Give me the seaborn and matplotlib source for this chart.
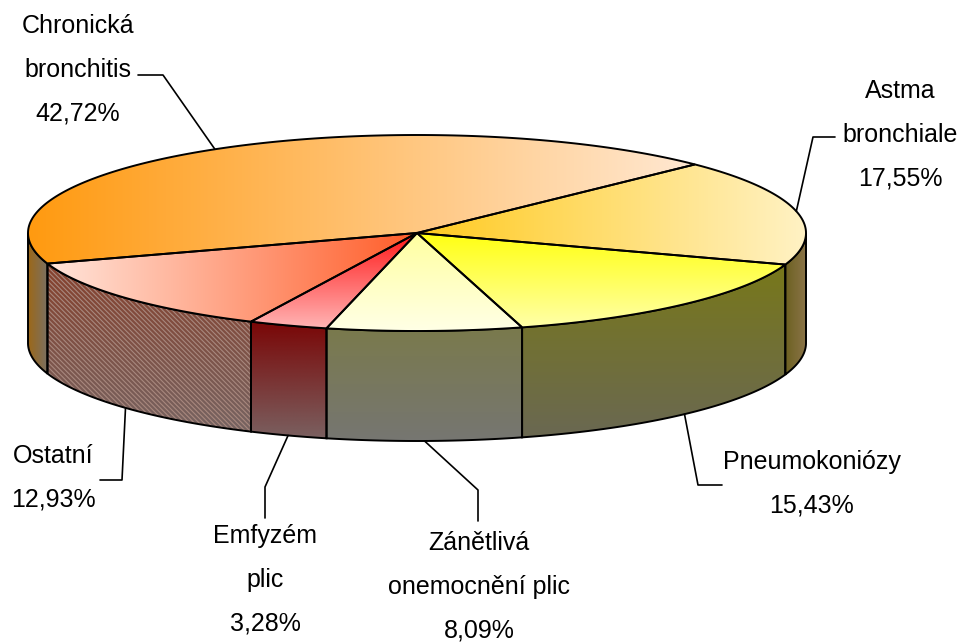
import numpy as np
import matplotlib
matplotlib.use("Agg")
import matplotlib.pyplot as plt
from matplotlib.patches import Polygon
import seaborn as sns

# data (counter-clockwise from the upper right)
labels = ["Chronická\nbronchitis", "Ostatní", "Emfyzém\nplic",
          "Zánětlivá\nonemocnění plic", "Pneumokoniózy", "Astma\nbronchiale"]
shares = [42.72, 12.93, 3.28, 8.09, 15.43, 17.55]
pct_labels = ["42,72%", "12,93%", "3,28%", "8,09%", "15,43%", "17,55%"]

# colours: top face gradient, side gradient (direction h/v)
top_cols = [(["#FF9A10", "#FFE8D2"], "h"),
            (["#FFE6DC", "#FF5C28"], "h"),
            (["#FF1818", "#FFB4B4"], "v"),
            (["#FFFFA0", "#FFFFE6"], "v"),
            (["#FFFF10", "#FFFFA8"], "v"),
            (["#FFCA20", "#FFF2C4"], "h")]
side_cols = [(["#9C6818", "#7A7064"], "h"),
             (["#86402C", "#766462"], "v"),
             (["#7A0606", "#7A6060"], "v"),
             (["#7A7A4C", "#767672"], "v"),
             (["#78781A", "#6A6852"], "v"),
             (["#6C6020", "#8A7448"], "h")]

# label layout (text block centre, elbow points of leader line)
text_pos = [(78, 70), (53, 478), (265, 580), (479, 587), (812, 484), (900, 135)]
elbows = [[(163, 75), (138, 75)],
          [(122, 480), (100, 480)],
          [(265, 487), (265, 518)],
          [(478, 490), (478, 521)],
          [(698, 485), (722, 485)],
          [(813, 137), (835, 137)]]

CX, CY, RX, RY, DEPTH, START = 417, 233, 389, 98, 110, 44.4

sns.set_theme(style="white")
plt.rcParams["font.family"] = ["Liberation Sans", "DejaVu Sans"]
plt.rcParams["hatch.linewidth"] = 0.8

fig = plt.figure(figsize=(9.62, 6.43), dpi=100)
ax = fig.add_axes([0, 0, 1, 1])


def ell(t, dz=0.0):
    r = np.radians(t)
    return np.column_stack([CX + RX * np.cos(r), CY - RY * np.sin(r) + dz])


def grad_fill(verts, colors, direction, zorder, hatch=None):
    poly = Polygon(verts, closed=True, facecolor="none", edgecolor="none")
    ax.add_patch(poly)
    pal = np.array(sns.blend_palette(colors, 256))
    img = pal[None, :, :] if direction == "h" else pal[:, None, :]
    x0, y0 = verts.min(0)
    x1, y1 = verts.max(0)
    im = ax.imshow(img, extent=(x0, x1, y1, y0), aspect="auto",
                   interpolation="bilinear", zorder=zorder)
    im.set_clip_path(poly)
    if hatch:
        ax.add_patch(Polygon(verts, closed=True, facecolor="none",
                             edgecolor="#A8887E", hatch=hatch, lw=0,
                             zorder=zorder + 0.1))
    ax.add_patch(Polygon(verts, closed=True, facecolor="none",
                         edgecolor="black", lw=1.4, zorder=zorder + 0.2))


bounds = START + np.concatenate([[0], np.cumsum(shares)]) / 100 * 360

# side walls (front half only)
for i in range(len(shares)):
    lo, hi = max(bounds[i], 180), min(bounds[i + 1], 360)
    if hi <= lo:
        continue
    ts = np.linspace(lo, hi, 80)
    verts = np.vstack([ell(ts), ell(ts[::-1], DEPTH)])
    grad_fill(verts, *side_cols[i], zorder=2,
              hatch="\\" * 7 if i == 1 else None)

# top faces
for i in range(len(shares)):
    ts = np.linspace(bounds[i], bounds[i + 1], 150)
    verts = np.vstack([[CX, CY], ell(ts)])
    grad_fill(verts, *top_cols[i], zorder=4)

# labels with leader lines
for i in range(len(shares)):
    mid = (bounds[i] + bounds[i + 1]) / 2
    dz = DEPTH if np.sin(np.radians(mid)) < 0 else 0
    anchor = ell(np.array([mid]), dz)[0]
    pts = np.vstack([anchor, elbows[i]])
    ax.plot(pts[:, 0], pts[:, 1], color="black", lw=1.2, zorder=6)
    tx, ty = text_pos[i]
    ax.text(tx, ty, labels[i] + "\n" + pct_labels[i], ha="center",
            va="center", fontsize=18, linespacing=2.05, color="black")

ax.set_xlim(0, 962)
ax.set_ylim(643, 0)
ax.axis("off")

fig.savefig("out.png", dpi=100, facecolor="white")
